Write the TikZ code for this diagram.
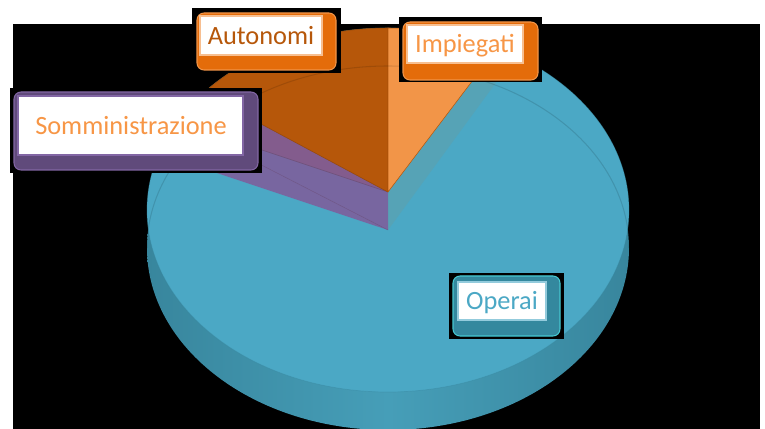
\documentclass[tikz,border=0pt]{standalone}
\usepackage{fontspec}
\setmainfont{Carlito}
\usetikzlibrary{calc}
\definecolor{operai}{RGB}{75,168,197}
\definecolor{operaiwall}{RGB}{70,158,184}
\definecolor{operaiedge}{RGB}{56,134,157}
\definecolor{operaiband}{RGB}{86,163,182}
\definecolor{autonomi}{RGB}{182,87,10}
\definecolor{impiegati}{RGB}{242,149,72}
\definecolor{somm}{RGB}{131,92,141}
\definecolor{sommband}{RGB}{120,102,160}
\definecolor{sommlight}{RGB}{130,102,164}
\definecolor{bevelorange}{RGB}{228,108,10}
\definecolor{bevelpurple}{RGB}{96,74,123}
\definecolor{bevelteal}{RGB}{52,136,158}
\definecolor{tealedge}{RGB}{70,200,210}
\definecolor{txtorange}{RGB}{247,150,70}
\begin{document}
\begin{tikzpicture}[x=0.02cm,y=-0.02cm]
	\tikzstyle{slice}=[line width=0.3pt, line join=round]
	\tikzstyle{face}=[fill=white, line width=0.6pt]
	\tikzstyle{bevel}=[rounded corners=4pt, line width=0.6pt]
	\tikzstyle{lbl}=[inner sep=0pt, anchor=base, font=\fontsize{15}{18}\selectfont]
	\useasboundingbox (0,0) rectangle (765,429);
	\fill[black] (13,24) rectangle (760,429);
	% pie geometry
	\coordinate (top) at (388,210);
	\coordinate (bot) at (388,248);
	\coordinate (A) at (388,192);
	\coordinate (A2) at (388,230);
	\coordinate (T) at ($(top)+(270:241 and 182)$);
	\coordinate (B) at ($(top)+(297:241 and 182)$);
	\coordinate (P) at ($(top)+(220:241 and 182)$);
	\coordinate (Q) at ($(top)+(209:241 and 182)$);
	\coordinate (Q2) at ($(Q)+(0,38)$);
	% side wall and top face
	\shade[left color=operaiedge, right color=operaiedge, middle color=operaiwall] (bot) ellipse[x radius=241, y radius=182];
	\fill[operai] (top) ellipse[x radius=241, y radius=182];
	\draw[operaiedge, line width=0.4pt, opacity=0.4] (top) ellipse[x radius=241, y radius=182];
	% cut faces
	\fill[operaiband] (A) -- (B) arc[start angle=297, end angle=302, x radius=241, y radius=182] -- (A2) -- cycle;
	\fill[sommband] (A) -- (Q) -- (Q2) -- (A2) -- cycle;
	\draw[slice, somm!80!black, opacity=0.5] (A2) -- ($(A2)!0.7!(Q)$);
	% slices
	\filldraw[slice, fill=somm, draw=somm!85!black] (A) -- (Q) arc[start angle=209, end angle=220, x radius=241, y radius=182] -- cycle;
	\filldraw[slice, fill=autonomi, draw=autonomi!85!black] (A) -- (P) arc[start angle=220, end angle=270, x radius=241, y radius=182] -- cycle;
	\filldraw[slice, fill=impiegati, draw=autonomi] (A) -- (T) arc[start angle=270, end angle=297, x radius=241, y radius=182] -- cycle;
	\draw[black, opacity=0.12, line width=0.6pt] ($(bot)+(180:241 and 182)$) arc[start angle=180, end angle=360, x radius=241, y radius=182];
	% labels
	\fill[black] (192,8) rectangle (341,73);
	\filldraw[bevel, fill=bevelorange, draw=impiegati] (197,13) rectangle (336,70);
	\filldraw[face, draw=impiegati!60] (200,16) rectangle (322,55);
	\node[lbl, text=autonomi] (aut) at (261,45) {Autonomi};
	\fill[black] (399,17) rectangle (542,82);
	\filldraw[bevel, fill=bevelorange, draw=impiegati] (403,22) rectangle (538,80);
	\filldraw[face, draw=impiegati!60] (407,25) rectangle (523,63);
	\node[lbl, text=txtorange] (imp) at (465,53) {Impiegati};
	\fill[black] (10,88) rectangle (262,173);
	\filldraw[bevel, fill=bevelpurple, draw=sommlight] (14,92) rectangle (258,170);
	\filldraw[face, draw=sommlight] (18,96) rectangle (243,155);
	\node[lbl, text=txtorange] (som) at (131,135) {Somministrazione};
	\fill[black] (449,273) rectangle (564,339);
	\filldraw[bevel, fill=bevelteal, draw=tealedge] (453,276) rectangle (560,336);
	\filldraw[face, draw=operai!60] (458,282) rectangle (546,320);
	\node[lbl, text=operai] (ope) at (502,310) {Operai};
\end{tikzpicture}
\end{document}
